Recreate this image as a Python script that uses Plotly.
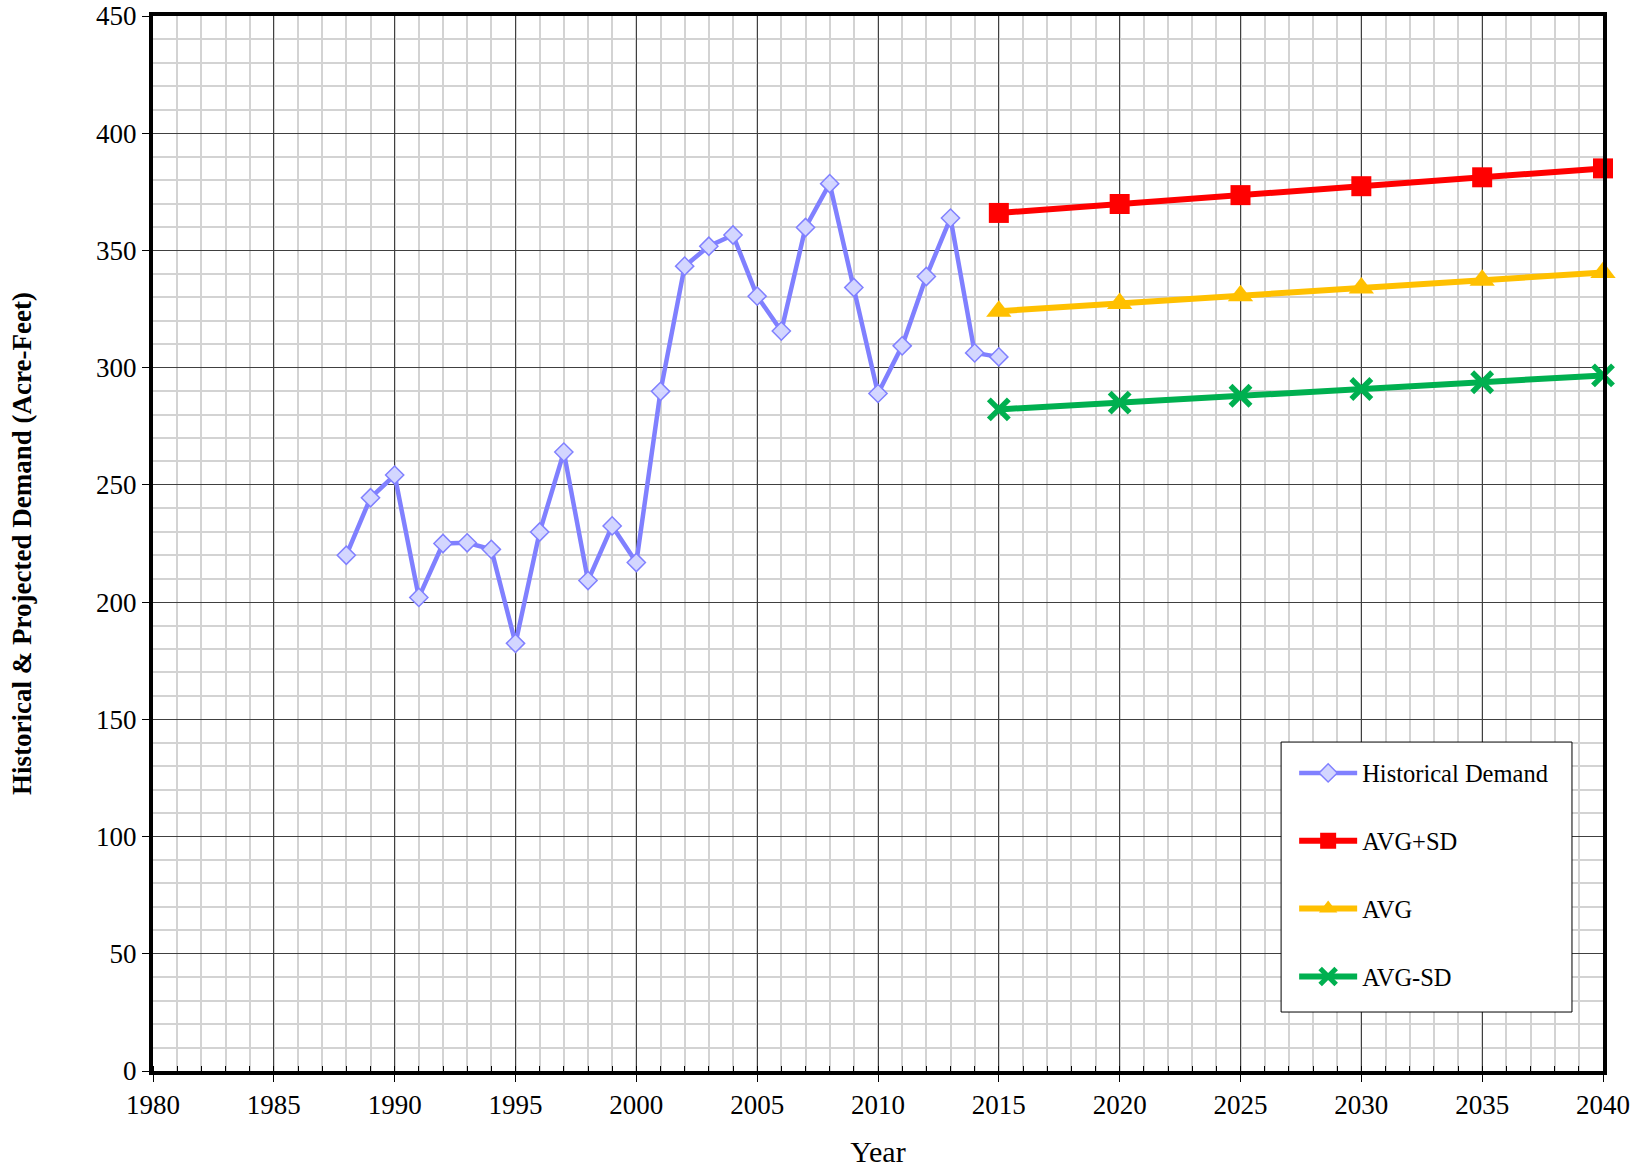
import plotly.graph_objects as go

# historical demand (acre-feet)
hist_years = list(range(1988, 2016))
hist_demand = [220.0, 244.5, 254.2, 202.0, 225.0, 225.3, 222.5, 182.4, 229.9, 264.0,
               209.2, 232.5, 216.9, 289.9, 343.3, 351.8, 356.6, 330.5, 315.6, 359.8,
               378.5, 334.2, 289.0, 309.3, 338.9, 363.8, 306.3, 304.6]

# projections
proj_years = [2015, 2020, 2025, 2030, 2035, 2040]
avg_plus_sd = [366.0, 369.8, 373.6, 377.4, 381.2, 385.0]
avg = [324.1, 327.4, 330.7, 334.0, 337.3, 340.6]
avg_minus_sd = [282.2, 285.1, 288.0, 290.9, 293.8, 296.7]

FONT = "Liberation Serif, Times New Roman, serif"

fig = go.Figure()

fig.add_trace(go.Scatter(x=hist_years, y=hist_demand, mode="lines+markers",
                         name="Historical Demand", legendgroup="a",
                         line=dict(color="#8080FF", width=4.5),
                         marker=dict(symbol="diamond", size=14, color="#D3D6FF",
                                     line=dict(color="#8080FF", width=1.5))))
fig.add_trace(go.Scatter(x=proj_years, y=avg_plus_sd, mode="lines+markers",
                         name="AVG+SD", legendgroup="b", cliponaxis=False,
                         line=dict(color="#FF0000", width=6),
                         marker=dict(symbol="square", size=20, color="#FF0000")))
fig.add_trace(go.Scatter(x=proj_years, y=avg, mode="lines+markers",
                         name="AVG", legendgroup="c", cliponaxis=False,
                         line=dict(color="#FFC000", width=6),
                         marker=dict(symbol="triangle-up", size=22, color="#FFC000")))
fig.add_trace(go.Scatter(x=proj_years, y=avg_minus_sd, mode="lines+markers",
                         name="AVG-SD", legendgroup="d", cliponaxis=False,
                         line=dict(color="#00B050", width=6),
                         marker=dict(symbol="x-thin", size=20, color="#00B050",
                                     line=dict(color="#00B050", width=5.5))))

fig.update_layout(
    width=1639, height=1168,
    margin=dict(l=153, r=36, t=16, b=97),
    plot_bgcolor="white", paper_bgcolor="white",
    font=dict(family=FONT, size=27, color="black"),
    legend=dict(x=0.787, y=0.3038, xanchor="left", yanchor="top",
                bgcolor="rgba(0,0,0,0)", borderwidth=0, itemwidth=58,
                font=dict(family=FONT, size=24.5), tracegroupgap=33),
    # legend frame drawn separately so it can have more padding
    shapes=[dict(type="rect", xref="paper", yref="paper",
                 x0=0.778, x1=0.9786, y0=0.0559, y1=0.3118,
                 fillcolor="white", line=dict(color="black", width=1),
                 layer="above")],
)

fig.update_xaxes(
    range=[1980, 2040], dtick=5, tick0=1980, automargin=False,
    showgrid=True, gridcolor="#404040", gridwidth=1,
    showline=True, linecolor="black", linewidth=4, mirror=True,
    ticks="outside", ticklen=7, tickcolor="black",
    minor=dict(dtick=1, showgrid=True, gridcolor="#D3D3D3", gridwidth=1.5,
               ticks="inside", ticklen=5, tickcolor="black"),
    zeroline=False,
    title=dict(text="Year", font=dict(family=FONT, size=30), standoff=27),
)
fig.update_yaxes(
    range=[0, 450], dtick=50, automargin=False,
    showgrid=True, gridcolor="#404040", gridwidth=1,
    showline=True, linecolor="black", linewidth=4, mirror=True,
    ticks="outside", ticklen=7, tickcolor="black",
    minor=dict(dtick=10, showgrid=True, gridcolor="#D3D3D3", gridwidth=1.5),
    zeroline=False,
    title=dict(text="<b>Historical & Projected Demand (Acre-Feet)</b>",
               font=dict(family=FONT, size=27), standoff=58),
)

# drop the default 8px body margin so the figure sits at the page origin
fig.write_html("out.html", config={"displayModeBar": False},
               post_script="document.body.style.margin='0';")
